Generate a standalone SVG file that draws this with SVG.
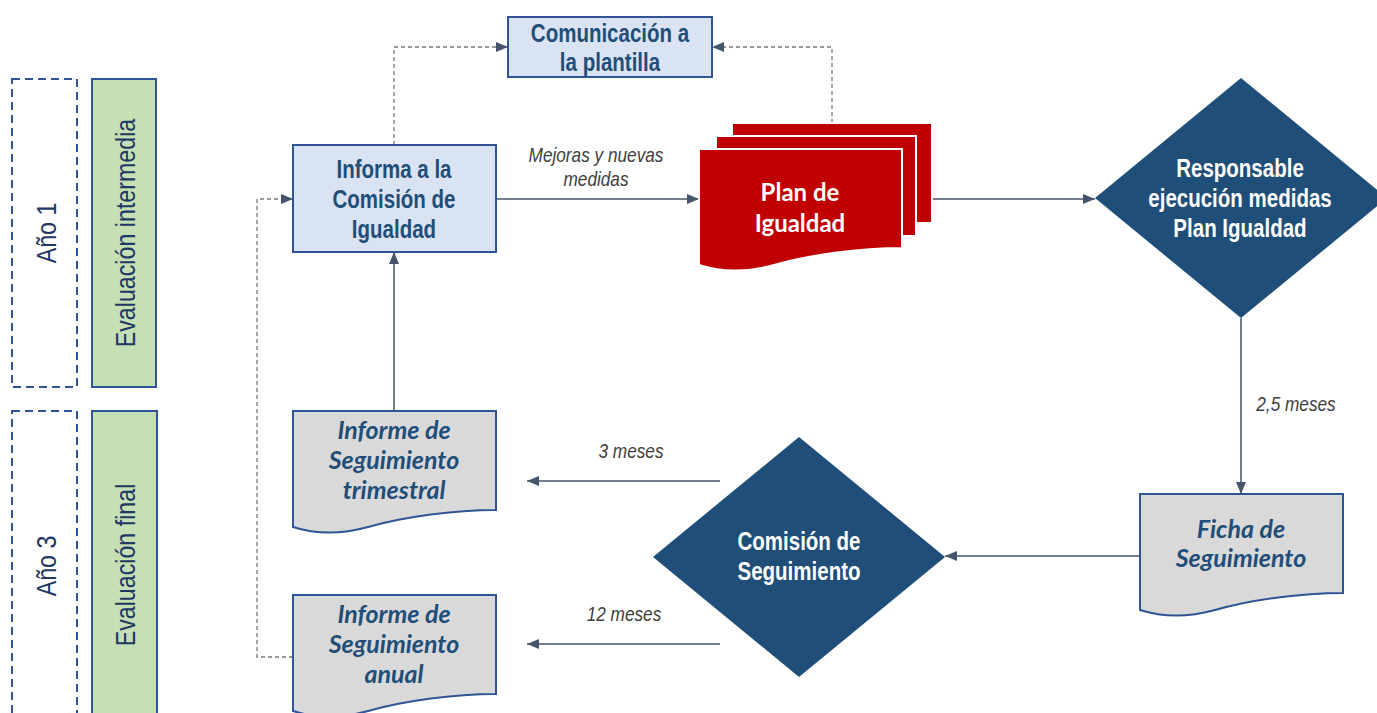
<svg xmlns="http://www.w3.org/2000/svg" width="1377" height="713" viewBox="0 0 1377 713">
<defs>
<style>
.nar{font-family:"Liberation Sans",Arial,sans-serif}
.cal{font-family:Lato,"Open Sans",sans-serif}
.box{fill:#dae3f3;stroke:#2f5597;stroke-width:2}
.doc{fill:#d9d9d9;stroke:#2f5597;stroke-width:2}
.red{fill:#c00000;stroke:#ffffff;stroke-width:2}
.dia{fill:#1f4e79}
.green{fill:#c5e0b4;stroke:#2f5597;stroke-width:2}
.dbox{fill:none;stroke:#2f5597;stroke-width:2;stroke-dasharray:8,5}
.bt{font-weight:bold;font-size:25px;fill:#1f4e79;text-anchor:middle}
.wt{font-weight:bold;font-size:25px;fill:#ffffff;text-anchor:middle}
.pt{font-weight:bold;font-size:24px;fill:#ffffff;text-anchor:middle}
.dt{font-weight:bold;font-style:italic;font-size:25px;fill:#1f4e79;text-anchor:middle}
.lbl{font-style:italic;font-size:21px;fill:#404040;text-anchor:middle}
.side{font-size:28px;fill:#1f3864;text-anchor:middle}
.con{fill:none;stroke:#44546a;stroke-width:1.5}
.dash{fill:none;stroke:#6f7987;stroke-width:1.3;stroke-dasharray:4,3}
</style>
<marker id="arr" viewBox="0 0 12 10" refX="12" refY="5" markerWidth="12" markerHeight="10" markerUnits="userSpaceOnUse" orient="auto">
<path d="M0,0 L12,5 L0,10 Z" fill="#44546a"/>
</marker>
<path id="docshape" d="M0,0 H203 V99 C160,99 110,106 75,116 C50,123 25,124 0,116 Z"/>
</defs>

<g id="ano1">
<rect class="dbox" x="12" y="79" width="65" height="308"/>
<text class="nar side" transform="translate(56,233) rotate(-90) scale(0.83,1)">Año 1</text>
</g>
<g id="eval-intermedia">
<rect class="green" x="92" y="79" width="64" height="308"/>
<text class="nar side" transform="translate(135,233) rotate(-90) scale(0.83,1)">Evaluación intermedia</text>
</g>
<g id="ano3">
<rect class="dbox" x="12" y="411" width="65" height="320"/>
<text class="nar side" transform="translate(56,566) rotate(-90) scale(0.83,1)">Año 3</text>
</g>
<g id="eval-final">
<rect class="green" x="92" y="411" width="65" height="320"/>
<text class="nar side" transform="translate(135,565) rotate(-90) scale(0.83,1)">Evaluación final</text>
</g>

<g id="connectors">
<line class="con" x1="496" y1="199" x2="699" y2="199" marker-end="url(#arr)"/>
<line class="con" x1="932" y1="199" x2="1095" y2="199" marker-end="url(#arr)"/>
<line class="con" x1="1241" y1="318" x2="1241" y2="494" marker-end="url(#arr)"/>
<line class="con" x1="1140" y1="556" x2="945" y2="556" marker-end="url(#arr)"/>
<line class="con" x1="720" y1="481" x2="527" y2="481" marker-end="url(#arr)"/>
<line class="con" x1="720" y1="644" x2="527" y2="644" marker-end="url(#arr)"/>
<line class="con" x1="394" y1="411" x2="394" y2="252" marker-end="url(#arr)"/>
<polyline class="dash" points="394,145 394,47 508,47" marker-end="url(#arr)"/>
<polyline class="dash" points="832,123 832,47 712,47" marker-end="url(#arr)"/>
<polyline class="dash" points="293,657 257,657 257,199 293,199" marker-end="url(#arr)"/>
<text class="nar lbl" x="596" y="162" transform="matrix(0.82,0,0,1,107.28,0)">Mejoras y nuevas</text>
<text class="nar lbl" x="596" y="186" transform="matrix(0.82,0,0,1,107.28,0)">medidas</text>
<text class="nar lbl" x="1296" y="411" transform="matrix(0.82,0,0,1,233.28,0)">2,5 meses</text>
<text class="nar lbl" x="631" y="458" transform="matrix(0.82,0,0,1,113.58,0)">3 meses</text>
<text class="nar lbl" x="624" y="621" transform="matrix(0.82,0,0,1,112.32,0)">12 meses</text>
</g>

<g id="comunicacion">
<rect class="box" x="508" y="17" width="204" height="60"/>
<text class="nar bt" x="610" y="42" transform="matrix(0.82,0,0,1,109.8,0)">Comunicación a</text>
<text class="nar bt" x="610" y="71" transform="matrix(0.82,0,0,1,109.8,0)">la plantilla</text>
</g>

<g id="informa">
<rect class="box" x="293" y="145" width="203" height="107"/>
<text class="nar bt" x="394" y="178" transform="matrix(0.82,0,0,1,70.92,0)">Informa a la</text>
<text class="nar bt" x="394" y="208" transform="matrix(0.82,0,0,1,70.92,0)">Comisión de</text>
<text class="nar bt" x="394" y="238" transform="matrix(0.82,0,0,1,70.92,0)">Igualdad</text>
</g>

<g id="plan">
<rect class="red" x="732" y="123" width="200" height="100"/>
<rect class="red" x="716" y="136" width="200" height="100"/>
<use href="#docshape" class="red" x="699" y="149"/>
<text class="cal pt" x="800" y="201">Plan de</text>
<text class="cal pt" x="800" y="232">Igualdad</text>
</g>

<g id="responsable">
<polygon class="dia" points="1241,78 1387,198 1241,318 1095,198"/>
<text class="nar wt" x="1240" y="177" transform="matrix(0.82,0,0,1,223.2,0)">Responsable</text>
<text class="nar wt" x="1240" y="207" transform="matrix(0.82,0,0,1,223.2,0)">ejecución medidas</text>
<text class="nar wt" x="1240" y="237" transform="matrix(0.82,0,0,1,223.2,0)">Plan Igualdad</text>
</g>

<g id="ficha">
<use href="#docshape" class="doc" x="1140" y="494"/>
<text class="cal dt" x="1241" y="538">Ficha de</text>
<text class="cal dt" x="1241" y="567">Seguimiento</text>
</g>

<g id="comision-seguimiento">
<polygon class="dia" points="799,437 945,557 799,677 653,557"/>
<text class="nar wt" x="799" y="550" transform="matrix(0.82,0,0,1,143.82,0)">Comisión de</text>
<text class="nar wt" x="799" y="580" transform="matrix(0.82,0,0,1,143.82,0)">Seguimiento</text>
</g>

<g id="informe-trimestral">
<use href="#docshape" class="doc" x="293" y="411"/>
<text class="cal dt" x="394" y="439">Informe de</text>
<text class="cal dt" x="394" y="469">Seguimiento</text>
<text class="cal dt" x="394" y="499">trimestral</text>
</g>

<g id="informe-anual">
<use href="#docshape" class="doc" x="293" y="595"/>
<text class="cal dt" x="394" y="623">Informe de</text>
<text class="cal dt" x="394" y="653">Seguimiento</text>
<text class="cal dt" x="394" y="683">anual</text>
</g>
</svg>
